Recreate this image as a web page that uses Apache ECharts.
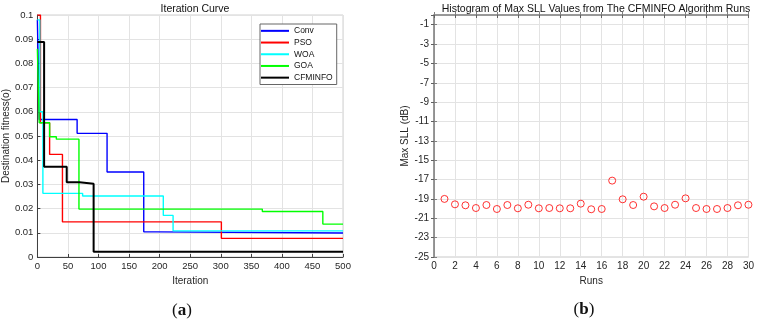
<!DOCTYPE html>
<html>
<head>
<meta charset="utf-8">
<script src="https://cdn.jsdelivr.net/npm/echarts@6/dist/echarts.min.js"></script>
<style>
  html, body { margin: 0; padding: 0; background: #fff; }
  #chart { width: 757px; height: 321px; }
</style>
</head>
<body>
<div id="chart"></div>
<script>
// (a) 收敛曲线：每个点 [迭代次数, 适应度]，数值保持到下一个点
const convData = [[0, 0.098], [3, 0.0568], [65, 0.0511], [114, 0.0351], [174, 0.0104], [196, 0.0099], [500, 0.0099]];
const psoData = [[0, 0.1], [5, 0.0555], [20, 0.0424], [41, 0.0145], [301, 0.0077], [500, 0.0077]];
const woaData = [[0, 0.098], [4, 0.06], [9, 0.0263], [74, 0.0252], [206, 0.0172], [222, 0.0108], [500, 0.0108]];
const goaData = [[0, 0.086], [3, 0.0555], [20, 0.0497], [31, 0.0487], [68, 0.0198], [368, 0.0188], [467, 0.0136], [500, 0.0136]];
const cfminfoData = [[0, 0.0888], [11, 0.0373], [48, 0.0309], [69, 0.0303], [92, 0.0022], [500, 0.0022]];
const seriesNames = ["Conv", "PSO", "WOA", "GOA", "CFMINFO"];

// (b) 每次运行的最大旁瓣电平 (dB)
const runs = [1, 2, 3, 4, 5, 6, 7, 8, 9, 10, 11, 12, 13, 14, 15, 16, 17, 18, 19, 20, 21, 22, 23, 24, 25, 26, 27, 28, 29, 30];
const maxSll = [-19.0, -19.56, -19.66, -19.94, -19.63, -20.04, -19.63, -19.97, -19.6, -19.97, -19.94, -19.97, -19.97, -19.49, -20.07, -20.04,
  -17.11, -19.04, -19.63, -18.77, -19.77, -19.94, -19.6, -18.94, -19.94, -20.04, -20.04, -19.94, -19.66, -19.6];

const chart = echarts.init(document.getElementById("chart"), null, { renderer: "canvas" });

const labelColor = "#262626";
const gridLine = { show: true, lineStyle: { color: "#e3e3e3", width: 1 } };

function stepLine(name, data, color, width) {
  return {
    name: name,
    type: "line",
    step: "end",
    xAxisIndex: 0,
    yAxisIndex: 0,
    symbol: "none",
    showSymbol: false,
    lineStyle: { color: color, width: width },
    itemStyle: { color: color },
    data: data,
  };
}

const option = {
  animation: false,
  backgroundColor: "#fff",
  title: [
    {
      text: "Iteration Curve",
      left: 190,
      top: -1,
      textAlign: "center",
      textStyle: { fontFamily: "Liberation Sans", fontSize: 10.5, fontWeight: "normal", color: "#111" },
    },
    {
      text: "Histogram of Max SLL Values from The CFMINFO Algorithm Runs",
      left: 591,
      top: -1,
      textAlign: "center",
      textStyle: { fontFamily: "Liberation Sans", fontSize: 10.5, fontWeight: "normal", color: "#111" },
    },
  ],
  legend: {
    data: seriesNames,
    orient: "vertical",
    left: 260,
    top: 24,
    padding: [1, 4, 1, 1],
    itemGap: 0,
    icon: "rect",
    itemWidth: 28,
    itemHeight: 2,
    backgroundColor: "#fff",
    borderColor: "#666",
    borderWidth: 1,
    textStyle: { fontFamily: "Liberation Sans", fontSize: 8.5, lineHeight: 11.7, color: "#111" },
  },
  grid: [
    { left: 37, right: 414, top: 15, bottom: 64, show: true, borderColor: "#d0d0d0", borderWidth: 1 },
    { left: 434, right: 8, top: 15, bottom: 64, show: true, borderColor: "#c8c8c8", borderWidth: 1 },
  ],
  xAxis: [
    {
      gridIndex: 0,
      type: "value",
      min: 0,
      max: 500,
      interval: 50,
      name: "Iteration",
      nameLocation: "middle",
      nameGap: 16,
      nameTextStyle: { fontFamily: "Liberation Sans", fontSize: 10, color: labelColor },
      axisLine: { lineStyle: { color: "#404040", width: 1 } },
      axisTick: { inside: true, length: 3, lineStyle: { color: "#404040" } },
      axisLabel: { fontFamily: "Liberation Sans", fontSize: 9.5, color: labelColor, margin: 4 },
      splitLine: gridLine,
    },
    {
      gridIndex: 1,
      type: "value",
      min: 0,
      max: 30,
      interval: 2,
      name: "Runs",
      nameLocation: "middle",
      nameGap: 16,
      nameTextStyle: { fontFamily: "Liberation Sans", fontSize: 10, color: labelColor },
      axisLine: { lineStyle: { color: "#808080", width: 1.5 } },
      axisTick: { inside: true, length: 3, lineStyle: { color: "#808080" } },
      axisLabel: { fontFamily: "Liberation Sans", fontSize: 10, color: labelColor, margin: 4 },
      splitLine: gridLine,
    },
    {
      gridIndex: 1,
      type: "value",
      position: "top",
      min: 0,
      max: 30,
      interval: 2,
      axisLine: { show: false },
      axisTick: { inside: true, length: 3, lineStyle: { color: "#606060" } },
      axisLabel: { show: false },
      splitLine: { show: false },
    },
  ],
  yAxis: [
    {
      gridIndex: 0,
      type: "value",
      min: 0,
      max: 0.1,
      interval: 0.01,
      name: "Destination fitness(o)",
      nameLocation: "middle",
      nameGap: 21,
      nameTextStyle: { fontFamily: "Liberation Sans", fontSize: 10, color: labelColor },
      axisLine: { show: true, lineStyle: { color: "#404040", width: 1 } },
      axisTick: { show: true, inside: true, length: 3, lineStyle: { color: "#404040" } },
      axisLabel: { fontFamily: "Liberation Sans", fontSize: 9.5, color: labelColor, margin: 4 },
      splitLine: gridLine,
    },
    {
      gridIndex: 1,
      type: "value",
      min: -25,
      max: 0,
      interval: 2,
      name: "Max SLL (dB)",
      nameLocation: "middle",
      nameGap: 19,
      nameTextStyle: { fontFamily: "Liberation Sans", fontSize: 10, color: labelColor },
      axisLine: { show: true, lineStyle: { color: "#808080", width: 1.5 } },
      axisTick: { show: true, inside: true, length: 3, lineStyle: { color: "#808080" } },
      axisLabel: { fontFamily: "Liberation Sans", fontSize: 10, color: labelColor, margin: 5, showMaxLabel: false },
      splitLine: gridLine,
    },
    {
      gridIndex: 1,
      type: "value",
      position: "right",
      min: -25,
      max: 0,
      interval: 2,
      axisLine: { show: true, lineStyle: { color: "#909090", width: 1 } },
      axisTick: { show: true, inside: true, length: 3, lineStyle: { color: "#606060" } },
      axisLabel: { show: false },
      splitLine: { show: false },
    },
  ],
  series: [
    stepLine("Conv", convData, "#0000ff", 1.4),
    stepLine("PSO", psoData, "#ff0000", 1.4),
    stepLine("WOA", woaData, "#00ffff", 1.4),
    stepLine("GOA", goaData, "#00ff00", 1.4),
    stepLine("CFMINFO", cfminfoData, "#000000", 2),
    {
      name: "Max SLL",
      type: "scatter",
      xAxisIndex: 1,
      yAxisIndex: 1,
      symbol: "circle",
      symbolSize: 7,
      itemStyle: { color: "rgba(255,255,255,0)", borderColor: "#ff0000", borderWidth: 1 },
      data: runs.map((r, i) => [r, maxSll[i]]),
    },
  ],
  graphic: [
    {
      type: "text",
      x: 182,
      y: 311,
      style: {
        text: "{p|(}{l|a}{p|)}",
        align: "center",
        verticalAlign: "middle",
        rich: {
          p: { fontFamily: "Liberation Serif", fontSize: 17, fill: "#111" },
          l: { fontFamily: "Liberation Serif", fontSize: 17, fontWeight: "bold", fill: "#111" },
        },
      },
    },
    {
      type: "text",
      x: 584,
      y: 310,
      style: {
        text: "{p|(}{l|b}{p|)}",
        align: "center",
        verticalAlign: "middle",
        rich: {
          p: { fontFamily: "Liberation Serif", fontSize: 17, fill: "#111" },
          l: { fontFamily: "Liberation Serif", fontSize: 17, fontWeight: "bold", fill: "#111" },
        },
      },
    },
  ],
};

chart.setOption(option);
</script>
</body>
</html>
